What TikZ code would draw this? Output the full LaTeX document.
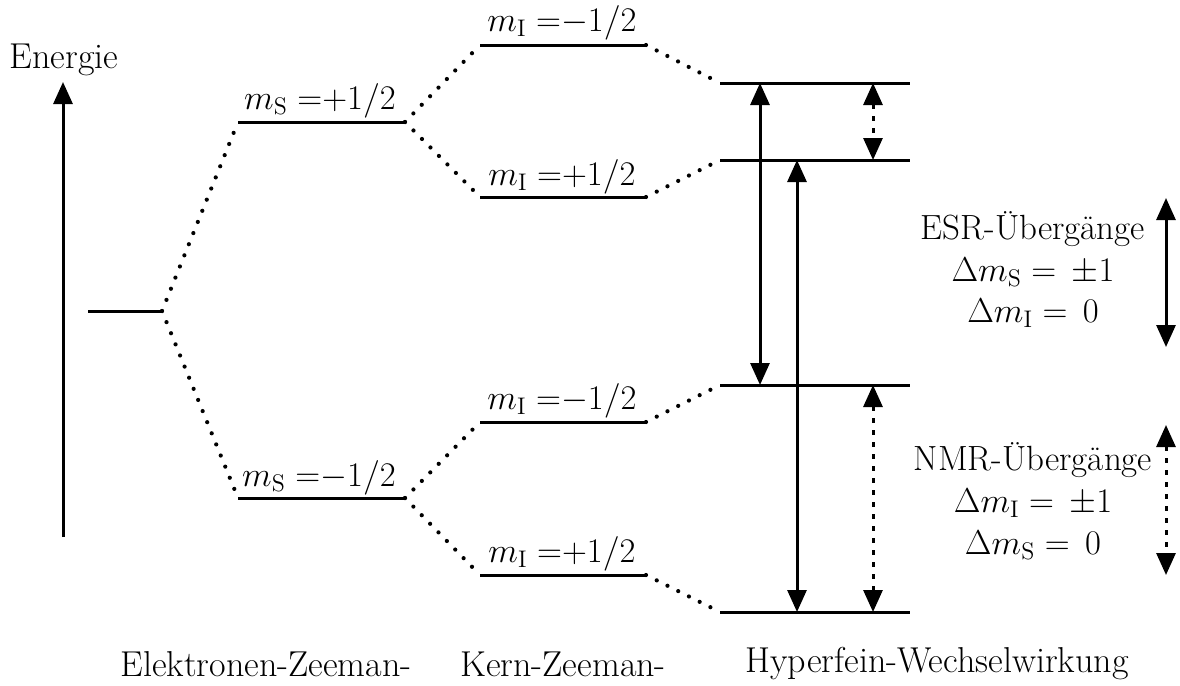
\documentclass[tikz,border=0pt]{standalone}
\usetikzlibrary{arrows.meta}
\begin{document}
\begin{tikzpicture}[x=0.5pt,y=-0.5pt,
  level/.style={line width=1.5pt},
  conn/.style={line width=2.1pt,line cap=round,dash pattern=on 0pt off 6pt},
  trans/.style={line width=1.5pt,{Triangle[length=11pt,width=9.5pt]}-{Triangle[length=11pt,width=9.5pt]}},
  ntrans/.style={trans,dash pattern=on 2.5pt off 3.5pt},
  lbl/.style={font=\fontsize{17.5}{20}\selectfont,inner sep=0pt},
  btm/.style={font=\fontsize{18}{21}\selectfont,inner sep=0pt}]
\useasboundingbox (0,0) rectangle (1180,686);
% energy axis
\coordinate (e0) at (63,537);
\coordinate (e1) at (63,82);
\draw[line width=1.5pt,-{Triangle[length=11pt,width=9.5pt]}] (e0) -- (e1);
\node[lbl,font=\fontsize{18}{21}\selectfont] (energie) at (64,60) {Energie};
% base level
\coordinate (b0) at (88,311); \coordinate (b1) at (162,311);
\draw[level] (b0) -- (b1);
% electron Zeeman
\coordinate (su0) at (238,122); \coordinate (su1) at (405,122);
\coordinate (sd0) at (238,498); \coordinate (sd1) at (405,498);
\draw[level] (su0) -- (su1);
\draw[level] (sd0) -- (sd1);
\node[lbl] (lsu) at (320,101) {$m_\mathrm{S}\;{=}{+}1/2$};
\node[lbl] (lsd) at (319,478) {$m_\mathrm{S}\;{=}{-}1/2$};
% nuclear Zeeman
\coordinate (k10) at (480,45);  \coordinate (k11) at (646,45);
\coordinate (k20) at (480,197); \coordinate (k21) at (646,197);
\coordinate (k30) at (480,422); \coordinate (k31) at (646,422);
\coordinate (k40) at (480,575); \coordinate (k41) at (646,575);
\foreach \i in {1,2,3,4}{\draw[level] (k\i0) -- (k\i1);}
\node[lbl] (lk1) at (562,23) {$m_\mathrm{I}\;{=}{-}1/2$};
\node[lbl] (lk2) at (562,177) {$m_\mathrm{I}\;{=}{+}1/2$};
\node[lbl] (lk3) at (562,401) {$m_\mathrm{I}\;{=}{-}1/2$};
\node[lbl] (lk4) at (562,554) {$m_\mathrm{I}\;{=}{+}1/2$};
% hyperfine levels
\coordinate (h10) at (720,83);  \coordinate (h11) at (910,83);
\coordinate (h20) at (720,160); \coordinate (h21) at (910,160);
\coordinate (h30) at (720,385); \coordinate (h31) at (910,385);
\coordinate (h40) at (720,612); \coordinate (h41) at (910,612);
\foreach \i in {1,2,3,4}{\draw[level] (h\i0) -- (h\i1);}
% dotted connectors
\draw[conn] (b1) -- (su0);
\draw[conn] (b1) -- (sd0);
\draw[conn] (su1) -- (k10);
\draw[conn] (su1) -- (k20);
\draw[conn] (sd1) -- (k30);
\draw[conn] (sd1) -- (k40);
\draw[conn] (k11) -- (h10);
\draw[conn] (k21) -- (h20);
\draw[conn] (k31) -- (h30);
\draw[conn] (k41) -- (h40);
% transitions
\coordinate (a1t) at (760,83);  \coordinate (a1b) at (760,385);
\coordinate (a2t) at (797,160); \coordinate (a2b) at (797,612);
\coordinate (n1t) at (873,83);  \coordinate (n1b) at (873,160);
\coordinate (n2t) at (873,385); \coordinate (n2b) at (873,612);
\draw[trans] (a1t) -- (a1b);
\draw[trans] (a2t) -- (a2b);
\draw[ntrans] (n1t) -- (n1b);
\draw[ntrans] (n2t) -- (n2b);
% legend
\node[lbl] (esr1) at (1033,229) {ESR-Übergänge};
\node[lbl] (esr2) at (1033,272) {$\Delta m_\mathrm{S} =\, \pm 1$};
\node[lbl] (esr3) at (1033,313) {$\Delta m_\mathrm{I} =\, 0$};
\coordinate (le1) at (1166,198); \coordinate (le2) at (1166,347);
\draw[trans] (le1) -- (le2);
\node[lbl] (nmr1) at (1033,460) {NMR-Übergänge};
\node[lbl] (nmr2) at (1033,503) {$\Delta m_\mathrm{I} =\, \pm 1$};
\node[lbl] (nmr3) at (1033,545) {$\Delta m_\mathrm{S} =\, 0$};
\coordinate (ln1) at (1166,425); \coordinate (ln2) at (1166,575);
\draw[ntrans] (ln1) -- (ln2);
% bottom labels
\node[btm] (t1) at (266,664) {Elektronen-Zeeman-};
\node[btm] (t2) at (563,664) {Kern-Zeeman-};
\node[btm] (t3) at (937,664) {Hyperfein-Wechselwirkung};
\end{tikzpicture}
\end{document}
